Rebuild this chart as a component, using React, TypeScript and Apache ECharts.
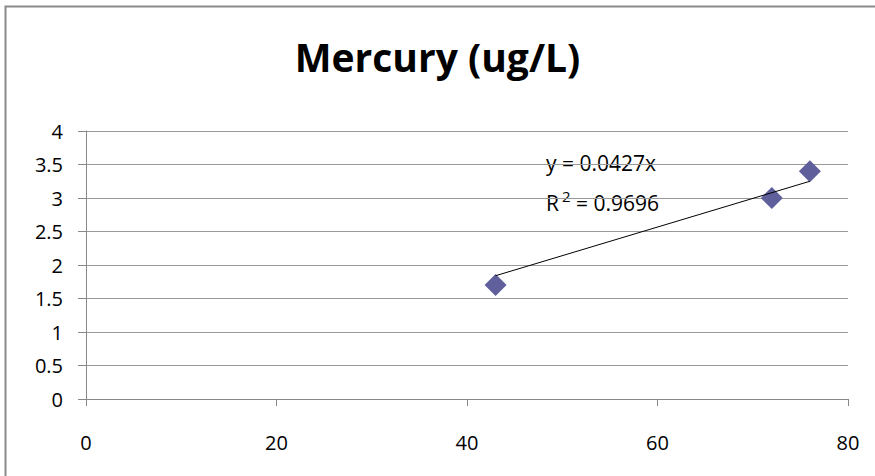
import React, { useEffect, useRef } from "react";
import * as echarts from "echarts";

const title = "Mercury (ug/L)";
const xValues = [43, 72, 76];
const yValues = [1.7, 3.0, 3.4];
const trendX = [43, 76];
const trendY = [1.84, 3.25];
const equationText = "y = 0.0427x";
const r2Value = "0.9696";

const FONT = "'Open Sans', Lato, sans-serif";

export default function App() {
  const ref = useRef<HTMLDivElement>(null);
  useEffect(() => {
    document.body.style.margin = "0";
    const chart = echarts.init(ref.current!, null, { renderer: "svg" });
    chart.setOption({
      animation: false,
      backgroundColor: "#ffffff",
      title: {
        text: title,
        left: "center",
        top: 32,
        textStyle: { fontFamily: FONT, fontWeight: "bold", fontSize: 39, color: "#000" },
      },
      grid: { left: 86, right: 27, top: 131, bottom: 77 },
      xAxis: {
        type: "value",
        min: 0,
        max: 80,
        interval: 20,
        axisLine: { show: true, lineStyle: { color: "#888", width: 1 } },
        axisTick: { show: true, length: 7, lineStyle: { color: "#888" } },
        axisLabel: { margin: 33, fontFamily: FONT, fontSize: 20, color: "#000" },
        splitLine: { show: false },
      },
      yAxis: {
        type: "value",
        min: 0,
        max: 4,
        interval: 0.5,
        axisLine: { show: true, lineStyle: { color: "#888", width: 1 } },
        axisTick: { show: true, length: 8, lineStyle: { color: "#888" } },
        axisLabel: { margin: 23, fontFamily: FONT, fontSize: 20, color: "#000" },
        splitLine: { show: true, lineStyle: { color: "#999", width: 1 } },
      },
      series: [
        {
          type: "scatter",
          data: xValues.map((x, i) => [x, yValues[i]]),
          symbol: "diamond",
          symbolSize: 22,
          itemStyle: { color: "#5f5f9c", opacity: 1 },
          z: 2,
        },
        {
          type: "line",
          data: trendX.map((x, i) => [x, trendY[i]]),
          symbol: "none",
          lineStyle: { color: "#000", width: 1 },
          z: 3,
        },
      ],
      graphic: [
        {
          type: "rect",
          shape: { x: 5.5, y: 6.5, width: 1000, height: 1000 },
          style: { fill: "none", stroke: "#8a8a8a", lineWidth: 2 },
          silent: true,
        },
        {
          type: "text",
          left: 546,
          top: 152,
          style: { text: equationText, fontFamily: FONT, fontSize: 21, fill: "#000" },
        },
        {
          type: "text",
          left: 546,
          top: 188,
          style: {
            text: "{n|R}{s|2}{n| = " + r2Value + "}",
            rich: {
              n: { fontFamily: FONT, fontSize: 21, fill: "#000", verticalAlign: "bottom" },
              s: { fontFamily: FONT, fontSize: 15, fill: "#000", padding: [0, 0, 10, 3] },
            },
          },
        },
      ],
    });
    return () => chart.dispose();
  }, []);
  return <div ref={ref} style={{ position: "absolute", left: 0, top: 0, width: 875, height: 476 }} />;
}
